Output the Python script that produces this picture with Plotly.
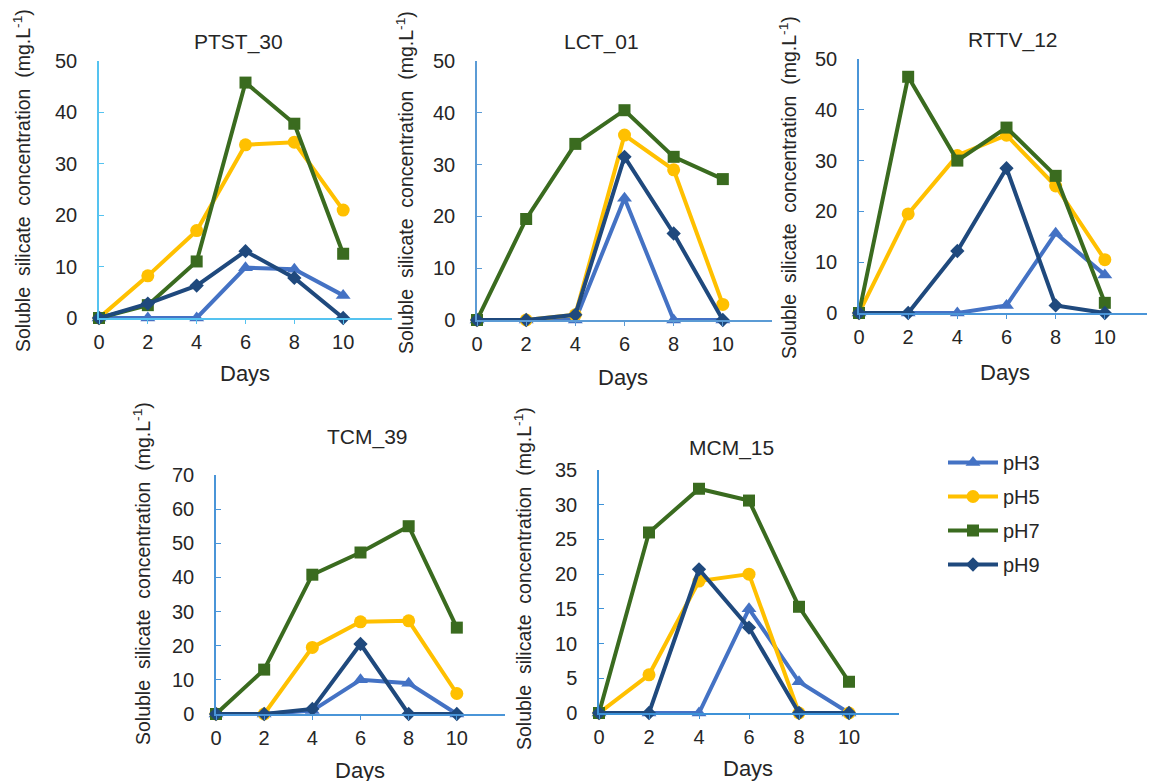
import plotly.graph_objects as go

W, H = 1155, 781
OFF = 8  # page body margin in the rendered html

days = [0, 2, 4, 6, 8, 10]
series_names = ["pH3", "pH5", "pH7", "pH9"]
panel_titles = ["PTST_30", "LCT_01", "RTTV_12", "TCM_39", "MCM_15"]

# values (mg.L-1)
ptst_ph3 = [0, 0, 0, 9.8, 9.5, 4.4]
ptst_ph5 = [0, 8.2, 17, 33.7, 34.2, 21]
ptst_ph7 = [0, 2.5, 11, 45.8, 37.8, 12.5]
ptst_ph9 = [0, 2.8, 6.3, 13, 7.8, 0]

lct_ph3 = [0, 0, 0, 23.5, 0, 0]
lct_ph5 = [0, 0, 1, 35.7, 29, 3]
lct_ph7 = [0, 19.5, 34, 40.5, 31.5, 27.2]
lct_ph9 = [0, 0, 1, 31.5, 16.7, 0]

rttv_ph3 = [0, 0, 0, 1.5, 15.7, 7.5]
rttv_ph5 = [0, 19.5, 31, 35, 25, 10.5]
rttv_ph7 = [0, 46.5, 30, 36.5, 27, 2]
rttv_ph9 = [0, 0, 12.2, 28.5, 1.5, 0]

tcm_ph3 = [0, 0, 1, 10, 9, 0]
tcm_ph5 = [0, 0, 19.5, 27, 27.3, 6]
tcm_ph7 = [0, 13, 40.8, 47.3, 55, 25.3]
tcm_ph9 = [0, 0, 1.5, 20.5, 0, 0]

mcm_ph3 = [0, 0, 0, 15, 4.5, 0]
mcm_ph5 = [0, 5.5, 19, 20, 0, 0]
mcm_ph7 = [0, 26, 32.3, 30.6, 15.3, 4.5]
mcm_ph9 = [0, 0, 20.7, 12.3, 0, 0]

y_max = [50, 50, 50, 70, 35]
y_step = [10, 10, 10, 10, 5]

panel_data = [
    [ptst_ph3, ptst_ph5, ptst_ph7, ptst_ph9],
    [lct_ph3, lct_ph5, lct_ph7, lct_ph9],
    [rttv_ph3, rttv_ph5, rttv_ph7, rttv_ph9],
    [tcm_ph3, tcm_ph5, tcm_ph7, tcm_ph9],
    [mcm_ph3, mcm_ph5, mcm_ph7, mcm_ph9],
]

colors = ["#4472C4", "#FFC000", "#3A6B1F", "#1F497D"]
symbols = ["triangle-up", "circle", "square", "diamond"]
msizes = [13, 13, 12, 11]

# pixel geometry (screen px) of each plot area: x of day 0, x of day 12, y of 0, y of max
geom = [
    (99, 392, 318, 61),
    (477, 772, 320, 61),
    (859, 1154, 313, 59),
    (216, 505, 714, 475),
    (599, 899, 713, 470),
]
axis_colors = ["#55C3F0", "#5B9BD5", "#4A95D8", "#4A95D8", "#3D92D8"]
title_pos = [(238, 42), (602, 42), (1013, 40), (367, 437), (731, 448)]
days_pos = [(245, 373), (623, 377), (1005, 372), (360, 770), (748, 768)]
ytitle_pos = [(22, 181), (405, 183), (788, 188), (142, 574), (523, 579)]


def px(x):
    return (x - OFF) / W


def py(y):
    return 1 - (y - OFF) / H


FONT = "Liberation Sans, Arial, sans-serif"
TXT = "#262626"

fig = go.Figure()
annotations = []

for p in range(5):
    ax = "" if p == 0 else str(p + 1)
    for s in range(4):
        fig.add_trace(go.Scatter(
            x=days, y=panel_data[p][s], name=series_names[s],
            mode="lines+markers",
            line=dict(color=colors[s], width=4),
            marker=dict(symbol=symbols[s], size=msizes[s], color=colors[s]),
            xaxis="x" + ax, yaxis="y" + ax,
            cliponaxis=False,
            showlegend=(p == 0),
            legendgroup=series_names[s],
        ))
    x0, x12, y0, ytop = geom[p]
    c = axis_colors[p]
    fig.layout["xaxis" + ax] = dict(
        domain=[px(x0), px(x12)], range=[0, 12], anchor="y" + ax,
        tickvals=days, showgrid=False, zeroline=False,
        showline=True, linecolor=c, linewidth=1.5,
        ticks="outside", ticklen=4, tickcolor=c,
        tickfont=dict(family=FONT, size=20, color=TXT),
        ticklabelstandoff=1, automargin=False,
    )
    fig.layout["yaxis" + ax] = dict(
        domain=[py(y0), py(ytop)], range=[0, y_max[p]], anchor="x" + ax,
        dtick=y_step[p], tick0=0, showgrid=False, zeroline=False,
        showline=True, linecolor=c, linewidth=1.5,
        ticks="inside", ticklen=5, tickcolor=c,
        tickfont=dict(family=FONT, size=20, color=TXT),
        ticklabelstandoff=16, automargin=False,
    )
    tx, ty = title_pos[p]
    annotations.append(dict(text=panel_titles[p], x=px(tx), y=py(ty),
                            xref="paper", yref="paper", showarrow=False,
                            xanchor="center", yanchor="middle",
                            font=dict(family=FONT, size=21, color=TXT)))
    dx, dy = days_pos[p]
    annotations.append(dict(text="Days", x=px(dx), y=py(dy),
                            xref="paper", yref="paper", showarrow=False,
                            xanchor="center", yanchor="middle",
                            font=dict(family=FONT, size=22, color=TXT)))
    yx, yy = ytitle_pos[p]
    annotations.append(dict(text="Soluble  silicate  concentration  (mg.L<sup>-1</sup>)",
                            x=px(yx), y=py(yy), textangle=-90,
                            xref="paper", yref="paper", showarrow=False,
                            xanchor="center", yanchor="middle",
                            font=dict(family=FONT, size=19.5, color=TXT)))

fig.update_layout(
    width=W, height=H,
    margin=dict(l=0, r=0, t=0, b=0, pad=0, autoexpand=False),
    paper_bgcolor="white", plot_bgcolor="white",
    annotations=annotations,
    showlegend=True,
    legend=dict(x=px(943), y=py(443), xanchor="left", yanchor="top",
                font=dict(family=FONT, size=20, color=TXT),
                tracegroupgap=5, bgcolor="rgba(0,0,0,0)",
                itemwidth=50),
)

fig.write_html("out.html")
